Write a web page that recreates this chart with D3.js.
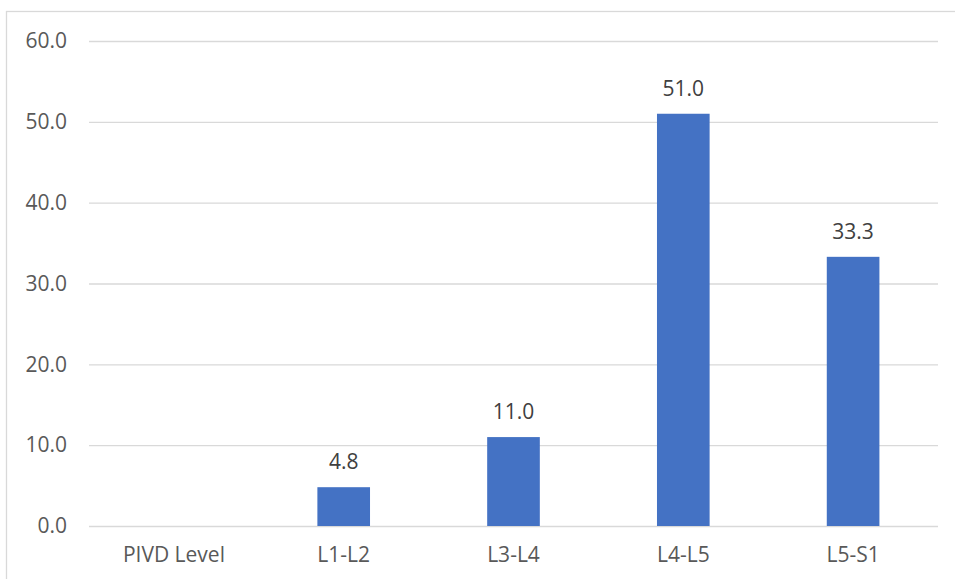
<!DOCTYPE html>
<html><head><meta charset="utf-8">
<script src="https://cdn.jsdelivr.net/npm/d3@7"></script>
<style>html,body{margin:0;padding:0;background:#fff;overflow:hidden}</style>
</head><body>
<svg id="c" width="955" height="579"></svg>
<script>
const categories = ["PIVD Level", "L1-L2", "L3-L4", "L4-L5", "L5-S1"];
const values = [null, 4.8, 11.0, 51.0, 33.3];
const yTicks = [0, 10, 20, 30, 40, 50, 60];

const svg = d3.select("#c");
const font = "'Open Sans', 'Noto Sans', sans-serif";
const fs = 21;
const m = {left: 89, right: 17, top: 41, bottom: 53};
const W = 955, H = 579;

svg.append("rect").attr("x", 6.5).attr("y", 11.5).attr("width", 1000).attr("height", 1000)
  .attr("fill", "#fff").attr("stroke", "#d9d9d9").attr("stroke-width", 1.3);

const x = d3.scaleBand().domain(categories).range([m.left, W - m.right]).paddingInner(0.69).paddingOuter(0.345);
const y = d3.scaleLinear().domain([0, 60]).range([H - m.bottom, m.top]);

const g = svg.append("g");
g.append("g").attr("transform", `translate(${m.left},0)`)
  .call(d3.axisLeft(y).tickValues(yTicks).tickSize(-(W - m.right - m.left)).tickFormat(d => d3.format(".1f")(d)).tickPadding(22))
  .call(s => s.select(".domain").remove())
  .call(s => s.selectAll(".tick line").attr("stroke", "#d9d9d9").attr("stroke-width", 1.3))
  .call(s => s.selectAll(".tick text").attr("fill", "#595959").attr("font-size", fs).attr("font-family", font));

g.append("g").attr("transform", `translate(0,${H - m.bottom})`)
  .call(d3.axisBottom(x).tickSize(0).tickPadding(21))
  .call(s => s.select(".domain").remove())
  .call(s => s.selectAll(".tick text").attr("fill", "#595959").attr("font-size", fs).attr("font-family", font));

const data = categories.map((c, i) => ({c, v: values[i]})).filter(d => d.v != null);
g.selectAll("rect.bar").data(data).join("rect").attr("class", "bar")
  .attr("x", d => x(d.c)).attr("width", x.bandwidth())
  .attr("y", d => y(d.v)).attr("height", d => y(0) - y(d.v))
  .attr("fill", "#4472C4");

g.selectAll("text.lbl").data(data).join("text").attr("class", "lbl")
  .attr("x", d => x(d.c) + x.bandwidth() / 2).attr("y", d => y(d.v) - 18)
  .attr("text-anchor", "middle").attr("fill", "#404040")
  .attr("font-size", fs).attr("font-family", font)
  .text(d => d3.format(".1f")(d.v));
</script>
</body></html>
